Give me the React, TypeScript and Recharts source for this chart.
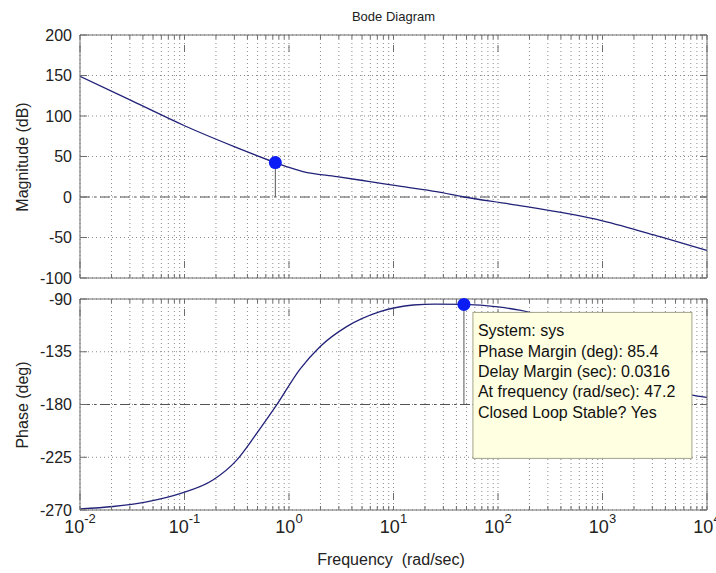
import React from 'react';
import {
  LineChart,
  Line,
  XAxis,
  YAxis,
  CartesianGrid,
  ReferenceLine,
  ReferenceDot,
} from 'recharts';

// open-loop response of sys (frequency in rad/sec)
const magFreq = [0.01, 0.0315, 0.1, 0.316, 0.74, 1.0, 1.36, 2.87, 5.95, 12.3, 25.8, 47.2, 130, 1000, 3550, 10000];
const magDb = [149, 118.7, 88, 61, 42.5, 36.5, 31.4, 25.2, 19, 12.8, 6.6, 0, -8.7, -29.4, -49, -66];

const phaseFreq = [
  0.01, 0.0207, 0.0434, 0.0906, 0.187, 0.316, 0.491, 0.762, 1.27, 1.98, 3.56, 7.43, 15.4, 25, 47.2,
  100, 160, 300, 600, 1000, 2000, 4000, 7670, 10000,
];
const phaseDeg = [
  -269, -267, -263, -256, -244.4, -227.4, -204.6, -180.4, -150, -130.7, -113.6, -100.8, -95.1, -94.3, -94.6,
  -96.8, -99.5, -106, -121, -135, -153, -164.5, -172.5, -174,
];

const decades = [0.01, 0.1, 1, 10, 100, 1000, 10000];
const decadeExp = ['-2', '-1', '0', '1', '2', '3', '4'];
const magTicks = [-100, -50, 0, 50, 100, 150, 200];
const phaseTicks = [-270, -225, -180, -135, -90];

// margin(sys) results
const phaseMargin = 85.4;
const delayMargin = 0.0316;
const crossoverFreq = 47.2;
const magPeak = { freq: 0.74, mag: 42.5 };

const tipLines = [
  'System: sys',
  `Phase Margin (deg): ${phaseMargin}`,
  `Delay Margin (sec): ${delayMargin}`,
  `At frequency (rad/sec): ${crossoverFreq}`,
  'Closed Loop Stable? Yes',
];

// 1..9 inside every decade for the log grid
const minorTicks: number[] = [];
decades.slice(0, -1).forEach((d) => {
  for (let k = 1; k < 10; k++) minorTicks.push(d * k);
});
minorTicks.push(decades[decades.length - 1]);

const magData = magFreq.map((f, i) => ({ f, mag: magDb[i] }));
const phaseData = phaseFreq.map((f, i) => ({ f, phase: phaseDeg[i] }));

const FONT = '"Liberation Sans", Arial, Helvetica, sans-serif';
const FRAME = '#6c6c6c';
const GRID = '#8a8a8a';
const CURVE = '#22227a';
const MARKER = '#0b1cf5';
const W = 716;
const X_DOMAIN: [number, number] = [0.01, 10000];

const NoLabel = () => <g />;

const frameAxes = (yDomain: [number, number], yTicks: number[]) => [
  <XAxis key="xb" xAxisId="x" dataKey="f" type="number" scale="log" domain={X_DOMAIN} allowDataOverflow
    ticks={minorTicks} interval={0} orientation="bottom" mirror height={10} tick={<NoLabel />} tickSize={4} stroke={FRAME} />,
  <XAxis key="xbm" xAxisId="xm" dataKey="f" type="number" scale="log" domain={X_DOMAIN} allowDataOverflow
    ticks={decades} interval={0} orientation="bottom" mirror height={10} tick={<NoLabel />} tickSize={7} axisLine={false} stroke={FRAME} />,
  <XAxis key="xt" xAxisId="xt" dataKey="f" type="number" scale="log" domain={X_DOMAIN} allowDataOverflow
    ticks={minorTicks} interval={0} orientation="top" mirror height={10} tick={<NoLabel />} tickSize={4} stroke={FRAME} />,
  <XAxis key="xtm" xAxisId="xtm" dataKey="f" type="number" scale="log" domain={X_DOMAIN} allowDataOverflow
    ticks={decades} interval={0} orientation="top" mirror height={10} tick={<NoLabel />} tickSize={7} axisLine={false} stroke={FRAME} />,
  <YAxis key="yl" yAxisId="y" type="number" domain={yDomain} allowDataOverflow ticks={yTicks} interval={0}
    orientation="left" mirror width={10} tick={<NoLabel />} tickSize={7} stroke={FRAME} />,
  <YAxis key="yr" yAxisId="yr" type="number" domain={yDomain} allowDataOverflow ticks={yTicks} interval={0}
    orientation="right" mirror width={10} tick={<NoLabel />} tickSize={7} stroke={FRAME} />,
  <YAxis key="ylab" yAxisId="ylab" type="number" domain={yDomain} allowDataOverflow ticks={yTicks} interval={0}
    orientation="left" width={80} tickLine={false} axisLine={false} tickSize={0} tickMargin={8}
    tick={{ fontSize: 16, fill: '#222', fontFamily: FONT }} />,
];

const PowerTick = (props: any) => {
  const { x, y, payload } = props;
  const idx = decades.indexOf(payload.value);
  return (
    <text x={x} y={y + 23} textAnchor="middle" fill="#222" fontFamily={FONT}>
      <tspan fontSize={18}>10</tspan>
      <tspan fontSize={13} dy={-10}>{decadeExp[idx]}</tspan>
    </text>
  );
};

const DataTip = (props: any) => {
  const x = props.cx + 9;
  const y = props.cy + 8;
  return (
    <g>
      <rect x={x} y={y} width={219} height={146} fill="#ffffe1" stroke="#a3a38a" />
      <text fontFamily={FONT} fontSize={16} fill="#111">
        {tipLines.map((t, i) => (
          <tspan key={i} x={x + 5} y={y + 24 + i * 20.3}>{t}</tspan>
        ))}
      </text>
    </g>
  );
};

const dashDot = '10 4 2 4';

export default function App() {
  return (
    <div style={{ position: 'absolute', left: 0, top: 0, width: W, height: 573, background: '#fff' }}>
      <div style={{ position: 'absolute', left: 0, top: 0 }}>
        <LineChart width={W} height={290} data={magData} margin={{ top: 35, right: 9, bottom: 12, left: 0 }}>
          <CartesianGrid xAxisId="x" yAxisId="y" stroke={GRID} strokeDasharray="1 3" />
          {frameAxes([-100, 200], magTicks)}
          <ReferenceLine xAxisId="x" yAxisId="y" y={0} stroke="#555" strokeDasharray={dashDot} />
          <ReferenceLine xAxisId="x" yAxisId="y" stroke="#555"
            segment={[{ x: magPeak.freq, y: magPeak.mag }, { x: magPeak.freq, y: 0 }]} />
          <Line xAxisId="x" yAxisId="y" dataKey="mag" type="monotone" stroke={CURVE} strokeWidth={1.3}
            dot={false} isAnimationActive={false} />
          <ReferenceDot xAxisId="x" yAxisId="y" x={magPeak.freq} y={magPeak.mag} r={6.5} fill={MARKER} stroke="none" />
        </LineChart>
      </div>
      <div style={{ position: 'absolute', left: 0, top: 290 }}>
        <LineChart width={W} height={283} data={phaseData} margin={{ top: 9, right: 9, bottom: 0, left: 0 }}>
          <CartesianGrid xAxisId="x" yAxisId="y" stroke={GRID} strokeDasharray="1 3" />
          {frameAxes([-270, -90], phaseTicks)}
          <XAxis xAxisId="xl" dataKey="f" type="number" scale="log" domain={X_DOMAIN} allowDataOverflow ticks={decades}
            interval={0} orientation="bottom" height={63} tickLine={false} axisLine={false} tickSize={0}
            tickMargin={0} tick={<PowerTick />} />
          <ReferenceLine xAxisId="x" yAxisId="y" y={-180} stroke="#555" strokeDasharray={dashDot} />
          <ReferenceLine xAxisId="x" yAxisId="y" stroke="#555"
            segment={[{ x: crossoverFreq, y: -180 + phaseMargin }, { x: crossoverFreq, y: -180 }]} />
          <Line xAxisId="x" yAxisId="y" dataKey="phase" type="monotone" stroke={CURVE} strokeWidth={1.3}
            dot={false} isAnimationActive={false} />
          <ReferenceDot xAxisId="x" yAxisId="y" x={crossoverFreq} y={-180 + phaseMargin} r={6.5} fill={MARKER} stroke="none" />
          <ReferenceDot xAxisId="x" yAxisId="y" x={crossoverFreq} y={-180 + phaseMargin} r={0}
            shape={(p: any) => <DataTip cx={p.cx} cy={p.cy} />} />
        </LineChart>
      </div>
      <svg width={W} height={573} style={{ position: 'absolute', left: 0, top: 0, pointerEvents: 'none' }}>
        <text x={393.5} y={21} textAnchor="middle" fontSize={13} fontFamily={FONT} fill="#222">Bode Diagram</text>
        <text x={22.5} y={157} transform="rotate(-90 22.5 157)" textAnchor="middle" dominantBaseline="central"
          fontSize={16} fontFamily={FONT} fill="#222">Magnitude (dB)</text>
        <text x={22.5} y={405} transform="rotate(-90 22.5 405)" textAnchor="middle" dominantBaseline="central"
          fontSize={16} fontFamily={FONT} fill="#222">Phase (deg)</text>
        <text x={391} y={565} textAnchor="middle" fontSize={16} fontFamily={FONT} fill="#222"
          style={{ whiteSpace: 'pre' }}>{'Frequency  (rad/sec)'}</text>
      </svg>
    </div>
  );
}
